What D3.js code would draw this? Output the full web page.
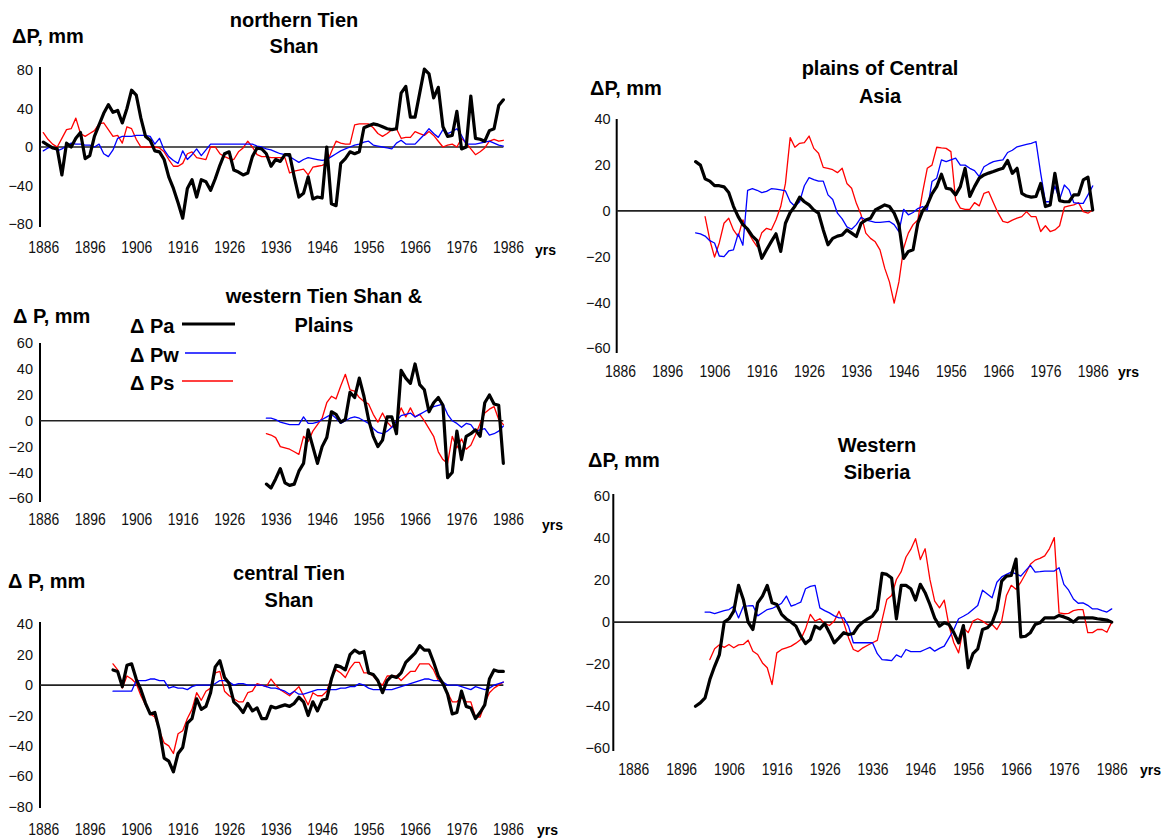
<!DOCTYPE html>
<html>
<head>
<meta charset="utf-8">
<script src="https://cdn.jsdelivr.net/npm/d3@7"></script>
<style>
  body { margin: 0; background: #fff; }
  svg { display: block; font-family: "Liberation Sans", Arial, sans-serif; }
</style>
</head>
<body>
<svg id="chart" width="1162" height="838"></svg>
<script>
// ---- shared tick labels ----
const yearTicks = d3.range(1886, 1987, 10);
const ticksNorth = [80, 40, 0, -40, -80];
const ticksWest = [60, 40, 20, 0, -20, -40, -60];
const ticksCentral = [40, 20, 0, -20, -40, -60, -80];
const ticksPlains = [40, 20, 0, -20, -40, -60];
const ticksSiberia = [60, 40, 20, 0, -20, -40, -60];

// ---- northern Tien Shan, yearly from 1886 ----
const northStart = 1886;
const northPa = [
  5, 2, -1, -2, -29, 4, 0, 9, 15, -12,
  -9, 11, 23, 35, 44, 36, 38, 25, 40, 59,
  54, 30, 11, 7, -4, -5, -13, -31, -43, -58,
  -74, -43, -34, -52, -34, -36, -45, -33, -19, -7,
  -5, -24, -26, -29, -27, -10, -1, -2, -7, -20,
  -13, -15, -8, -8, -31, -52, -48, -31, -54, -52,
  -53, 0, -59, -61, -17, -12, -5, -7, -5, 20,
  22, 24, 23, 21, 19, 18, 19, 56, 63, 31,
  31, 56, 81, 76, 51, 62, 21, 11, 12, 37,
  -2, 0, 53, 9, 8, 6, 17, 19, 43, 49
];
const northPw = [
  -4, -1, 0, -4, -2, 1, 4, 3, 3, 2,
  2, 0, 3, -7, -10, -3, 9, 11, 11, 11,
  12, 12, 12, 11, 3, 9, -3, -10, -14, -17,
  -4, -13, -8, -2, -9, -3, 3, 3, 3, 3,
  3, 3, 3, 3, 3, 3, 1, 0, -2, -3,
  -5, -7, -8, -10, -13, -16, -13, -11, -12, -13,
  -14, -13, -10, -7, -4, -2, 0, 2, 3, 5,
  6, 2, 1, 0, -1, -2, 4, 7, 3, 3,
  3, 8, 13, 19, 14, 10, 18, 14, 16, 19,
  12, 3, 3, 3, 4, 5, 6, 4, 2, 1
];
const northPs = [
  15, 8, 3, 0, 9, 18, 19, 30, 14, 11,
  14, 17, 24, 25, 18, 11, 12, 4, 21, 19,
  8, 0, 0, 0, 0, -1, -5, -13, -20, -20,
  -17, -7, -5, -11, -12, -13, 0, 0, -7, -10,
  -12, -13, -5, -1, 6, 0, -8, -10, -10, -11,
  -11, -11, -11, -27, -25, -24, -23, -29, -21, -20,
  -19, -17, -5, 6, 4, 3, 3, 23, 24, 24,
  24, 20, 14, 11, 14, 18, 19, 9, 10, 10,
  16, 14, 12, 16, 12, 6, 0, 2, 3, 0,
  9, 4, -2, -8, -5, -1, 6, 8, 6, 7
];

// ---- western Tien Shan & Plains, yearly from 1934 ----
const westStart = 1934;
const westPa = [
  -49, -52, -45, -37, -48, -50, -49, -39, -33, -7,
  -20, -33, -20, -13, 7, 5, -1, 1, 22, 18,
  33, 19, 1, -12, -20, -15, 3, 3, -10, 39,
  33, 29, 44, 28, 24, 7, 14, 18, 12, -44,
  -40, -8, -30, -12, -10, -7, -12, 14, 20, 13, 12, -33
];
const westPw = [
  2, 2, 1, -1, -2, -3, -3, -3, 3, -2,
  -2, -1, 1, 3, 5, 2, -2, 0, 2, 3,
  2, 0, -2, -6, -9, -10, -8, -5, 0, 4,
  5, 6, 3, 5, 7, 9, 11, 12, 13, 5,
  0, -2, -5, -2, -3, -8, -7, -6, -11, -10, -8, -4
];
const westPs = [
  -10, -11, -13, -20, -21, -22, -24, -26, -12, -16,
  -8, -3, 2, 14, 19, 17, 27, 36, 24, 23,
  18, 15, 13, 5, -1, 6, -1, -5, 0, 10,
  3, 10, 3, 5, 0, -6, -12, -24, -30, -33,
  -12, -21, -14, -22, -19, -11, -2, 6, 9, 11, 1, -3
];

// ---- central Tien Shan, yearly from 1901 ----
const centralStart = 1901;
const centralPa = [
  10, 9, -1, 13, 14, 4, -3, -12, -19, -18,
  -30, -48, -50, -57, -45, -41, -25, -22, -9, -16,
  -14, -5, 12, 16, 5, 1, -11, -14, -18, -12,
  -17, -15, -22, -22, -14, -15, -14, -13, -14, -12,
  -8, -11, -20, -11, -17, -10, -9, 4, 13, 12,
  10, 20, 23, 21, 22, 8, 7, 3, -5, 3,
  6, 5, 8, 15, 18, 21, 26, 23, 23, 15,
  6, 1, -6, -19, -18, -4, -14, -15, -22, -18,
  -13, 4, 10, 9, 9
];
const centralPw = [
  -4, -4, -4, -4, -4, 3, 3, 3, 4, 4,
  3, 3, -2, -1, -2, -2, -3, -1, 0, 0,
  0, 0, 1, 3, 3, 2, 0, 1, 1, 0,
  0, 0, 0, -1, -2, -2, -3, -4, -6, -4,
  -6, -6, -5, -4, -3, -3, -3, -3, -3, -2,
  -2, -1, -1, 1, 0, -2, -3, -3, -3, -3,
  -3, -2, -1, 0, 1, 2, 3, 4, 4, 3,
  3, 2, 0, 0, 0, -1, -2, -3, -1, -2,
  -3, -2, 0, 1, 2
];
const centralPs = [
  14, 10, -2, 6, 4, 1, -7, -13, -19, -21,
  -30, -38, -40, -45, -32, -30, -22, -16, -5, -10,
  -4, -2, 8, 9, -4, -7, -9, -11, -11, -5,
  -4, 1, 0, -1, 4, 0, -3, -5, -7, -4,
  -1, -7, -13, -5, -7, -7, -4, 5, 10, 8,
  5, 11, 15, 15, 8, 8, 6, 2, 0, 6,
  6, 6, 3, 6, 9, 9, 14, 14, 14, 10,
  3, 1, -5, -11, -11, -8, -11, -11, -21, -21,
  -12, -5, -2, 0, 2
];

// ---- plains of Central Asia ----
const plainsPaStart = 1902;
const plainsPa = [
  21.5, 20, 14, 13, 11, 11, 10.5, 8, 2, -2.5,
  -6, -8, -11, -13, -20.7, -17, -13.4, -10, -17.7, -5.4,
  -0.7, 2, 6, 4, 2.6, 0.4, -1, -8.3, -14.8, -12,
  -11, -10.5, -8.3, -9.7, -11.2, -5.4, -4, -3.2, 0.4, 1.5,
  2.6, 1.9, -1, -6, -20.7, -17.7, -17, -5.4, 0, 2.6,
  7.4, 10.6, 16, 9.9, 9.5, 7, 10.6, 18.6, 6.3, 10.6,
  14.3, 15.7, 16.5, 17.2, 18, 18.6, 22, 16.4, 18.6, 7.7,
  6.5, 6, 6.3, 12, 1.9, 2.6, 16.4, 4.5, 4, 4,
  7, 7, 13.5, 14.7, 0.4
];
const plainsPwStart = 1902;
const plainsPw = [
  -9.6, -10, -11, -13, -14, -19.7, -20, -17.5, -17, -10,
  -15, 9, 9.7, 9, 8, 8.5, 9.7, 9.5, 9.2, 8.7,
  4, 2, 4, 11, 14.5, 13.7, 13, 13, 7, 5,
  -1, -3.5, -7, -8, -6, -2.8, -4, -4.5, -5, -5,
  -4.8, -4.6, -6, -9, 0.7, -1.7, -0.7, 1, 1.9, 0.4,
  12.8, 14.3, 22.3, 21.5, 22.3, 23, 20, 20, 18.6, 17.6,
  15, 19.3, 20.5, 21.5, 22, 22.3, 25.5, 26.5, 28, 28.5,
  29, 29.5, 30.3, 16.4, 4, 4, 10.9, 5, 11.3, 9.2,
  3.6, 3.3, 3.3, 7, 10.9
];
const plainsPsStart = 1904;
const plainsPs = [
  -2.5, -12.7, -20.2, -14, -5.4, -3.2, -8.3, -11.2, -3.9, -9,
  -12.5, -15.6, -9.5, -7.6, -8.3, -3.9, 1.9, 12, 32, 27.8,
  29.5, 29.8, 32.7, 27.3, 25.2, 19, 18.6, 18, 16.7, 18.6,
  12, 9.9, 3.3, -1.7, -9.7, -12, -13.5, -17, -25, -31,
  -40.3, -31, -16.3, -9.7, -6, -4, 8, 18.6, 20, 27.8,
  27.5, 27.3, 25.9, 4.8, 1.2, 0.7, 0.7, 3.6, 2.2, 7.7,
  8.4, 3.6, -1, -4.6, -5.1, -4, -3.2, -2.5, -0.3, -2.5,
  -2.5, -9, -6.5, -9, -8.3, -6.5, 1.6, 2.2, 2.6, 3.6,
  -0.3, -1, 0.4
];

// ---- Western Siberia ----
const siberiaPaStart = 1899;
const siberiaPa = [
  -40, -38.4, -36, -27.3, -21, -15.4, 0, 1.6, 5.2, 17.5,
  10.8, 0, -3.5, 9.2, 12.4, 17.5, 9.2, 8.4, 3.7, 1.5,
  0, -1.9, -6.7, -10.2, -8.3, -1.9, -3.2, -0.6, -5, -9.8,
  -7.5, -5, -5.9, -5.4, -2, 0, 1.6, 2.9, 6, 23.2,
  22.7, 21, 1.6, 17.5, 17.5, 15.9, 10.5, 18, 14, 8.4,
  2, -1.9, -0.3, -1.1, -5, -9.8, -1.6, -21.7, -15, -12.7,
  -3.5, -2.7, -0.3, 6, 19.5, 21.9, 22.2, 30, -7, -6.7,
  -5, -1.1, -0.3, 2, 2, 2, 3.2, 2.5, 1.6, 0,
  2, 2, 2, 2, 1.6, 1.3, 1, 0
];
const siberiaPwStart = 1901;
const siberiaPw = [
  4.8, 4.8, 4.1, 4.8, 5.5, 6, 7.6, 2, 7.6, 7.7,
  7.9, 3, 4.5, 6, 6.5, 7.6, 9, 12.4, 7.6, 8.5,
  9.5, 15.9, 17, 17.5, 6.8, 5.5, 4.4, 3, 2, 2,
  -2, -9.8, -9.8, -9.8, -9.8, -9.8, -15, -17.8, -18, -18.3,
  -15.6, -16.7, -13, -14, -14, -14, -13, -12, -13.8, -12.5,
  -11.4, -7.5, -3.5, 1.6, 2.8, 4.1, 6, 7.9, 15.2, 13.4,
  11.6, 19, 21.5, 22.7, 23.8, 23, 21.9, 24.5, 27, 23.8,
  24, 24.3, 24.3, 24.3, 25.9, 18, 15.2, 11, 9, 9.2,
  8, 6.3, 6.3, 5.5, 4.8, 6.3
];
const siberiaPsStart = 1902;
const siberiaPs = [
  -17.8, -12.7, -10.8, -12, -10.6, -12.2, -10.8, -10.6, -8.6, -13.8,
  -15.4, -19.4, -21.7, -29.7, -14.6, -13, -12.2, -11.4, -10, -8.3,
  -3.2, 3.7, 0.5, 1.6, -0.6, -1.6, 0.5, 5.2, -0.3, -7.5,
  -13, -14, -12.2, -11, -9.8, -8.7, 1, 10.8, 12.7, 20.3,
  24, 31, 34.6, 39.7, 29.8, 34.9, 20.3, 10, 6.8, 10.5,
  -1.9, -9.8, -14.6, -2.7, -5, 0.5, 1.6, 0.5, -1.1, -1.1,
  -3.5, 0.5, 12.7, 17.5, 15.6, 19, 23, 27.5, 29.5, 30.3,
  31.5, 35, 40.2, 4.4, 4, 4.2, 5.5, 6, 6, -5,
  -5, -3.5, -3.5, -4.8, 0
];

// ---- series styling ----
const seriesStyle = {
  Pa: { color: "#000000", width: 3.2 },
  Pw: { color: "#0000ff", width: 1.3 },
  Ps: { color: "#ff0000", width: 1.3 }
};

const toPoints = (start, values) => values.map((v, i) => ({ year: start + i, value: v }));

// ---- panel layout ----
const panels = [
  {
    title: ["northern Tien", "Shan"], titleX: 294, titleY: [27, 53],
    unit: "ΔP, mm", unitX: 12, unitY: 43,
    xRange: [43.3, 508], yDomain: [-80, 80], yRange: [224, 70], yTicks: ticksNorth,
    axisX: 40, axisY: [67, 227], labelRight: 33, xLabelY: 253, yrsX: 535, yrsY: 255,
    series: {
      Ps: toPoints(northStart, northPs),
      Pw: toPoints(northStart, northPw),
      Pa: toPoints(northStart, northPa)
    }
  },
  {
    title: ["western Tien Shan &", "Plains"], titleX: 324, titleY: [303, 332],
    unit: "Δ P, mm", unitX: 13, unitY: 323,
    xRange: [43.3, 508], yDomain: [-60, 60], yRange: [498.3, 343.3], yTicks: ticksWest,
    axisX: 40, axisY: [343, 502], labelRight: 33, xLabelY: 525, yrsX: 542, yrsY: 530,
    legend: true,
    series: {
      Ps: toPoints(westStart, westPs),
      Pw: toPoints(westStart, westPw),
      Pa: toPoints(westStart, westPa)
    }
  },
  {
    title: ["central Tien", "Shan"], titleX: 289, titleY: [580, 607],
    unit: "Δ P, mm", unitX: 8, unitY: 588,
    xRange: [43.3, 508], yDomain: [-80, 40], yRange: [806.7, 624.3], yTicks: ticksCentral,
    axisX: 40, axisY: [622, 808], labelRight: 33, xLabelY: 835, yrsX: 537, yrsY: 835,
    series: {
      Ps: toPoints(centralStart, centralPs),
      Pw: toPoints(centralStart, centralPw),
      Pa: toPoints(centralStart, centralPa)
    }
  },
  {
    title: ["plains of Central", "Asia"], titleX: 880, titleY: [75, 103],
    unit: "ΔP, mm", unitX: 590, unitY: 95,
    xRange: [620, 1092.7], yDomain: [-60, 40], yRange: [348.3, 119.3], yTicks: ticksPlains,
    axisX: 616.7, axisY: [119, 353], labelRight: 610.7, xLabelY: 377, yrsX: 1118, yrsY: 377,
    series: {
      Ps: toPoints(plainsPsStart, plainsPs),
      Pw: toPoints(plainsPwStart, plainsPw),
      Pa: toPoints(plainsPaStart, plainsPa)
    }
  },
  {
    title: ["Western", "Siberia"], titleX: 877, titleY: [452, 479],
    unit: "ΔP, mm", unitX: 588, unitY: 467,
    xRange: [633.3, 1111.7], yDomain: [-60, 60], yRange: [748.3, 496], yTicks: ticksSiberia,
    axisX: 613.3, axisY: [494, 751], labelRight: 610, xLabelY: 775, yrsX: 1140, yrsY: 775,
    series: {
      Ps: toPoints(siberiaPsStart, siberiaPs),
      Pw: toPoints(siberiaPwStart, siberiaPw),
      Pa: toPoints(siberiaPaStart, siberiaPa)
    }
  }
];

const svg = d3.select("#chart");

function drawPanel(p) {
  const x = d3.scaleLinear().domain([1886, 1986]).range(p.xRange);
  const y = d3.scaleLinear().domain(p.yDomain).range(p.yRange);
  const g = svg.append("g");

  // y tick labels
  const yAxis = d3.axisLeft(y).tickValues(p.yTicks).tickSize(0).tickPadding(0)
    .tickFormat(d3.format("d"));
  const ya = g.append("g").attr("transform", `translate(${p.labelRight},0)`).call(yAxis);
  ya.select(".domain").remove();
  ya.attr("font-size", 14.5).attr("font-family", null);
  ya.selectAll("text").attr("fill", "#111");

  // x tick labels (years), narrow and tall
  const xAxis = d3.axisBottom(x).tickValues(yearTicks).tickSize(0).tickFormat(d3.format("d"));
  const xa = g.append("g").attr("transform", `translate(0,${p.xLabelY})`).call(xAxis);
  xa.select(".domain").remove();
  xa.attr("font-size", 16).attr("font-family", null);
  xa.selectAll("text").attr("y", 0).attr("dy", 0).attr("fill", "#111")
    .attr("transform", "scale(0.87,1)");

  // vertical axis line
  g.append("line")
    .attr("x1", p.axisX).attr("x2", p.axisX)
    .attr("y1", p.axisY[0]).attr("y2", p.axisY[1])
    .attr("stroke", "#000").attr("stroke-width", 2);

  // zero line up to the last year of data
  const lastYear = d3.max(Object.values(p.series), s => s[s.length - 1].year);
  g.append("line")
    .attr("x1", p.axisX).attr("x2", x(lastYear))
    .attr("y1", y(0)).attr("y2", y(0))
    .attr("stroke", "#222").attr("stroke-width", 1.6);

  // series
  const line = d3.line().x(d => x(d.year)).y(d => y(d.value));
  for (const key of ["Ps", "Pw", "Pa"]) {
    g.append("path")
      .datum(p.series[key])
      .attr("d", line)
      .attr("fill", "none")
      .attr("stroke", seriesStyle[key].color)
      .attr("stroke-width", seriesStyle[key].width)
      .attr("stroke-linejoin", "round")
      .attr("stroke-linecap", "round");
  }

  // texts
  g.append("text").attr("x", p.unitX).attr("y", p.unitY)
    .attr("font-size", 20).attr("font-weight", "bold").text(p.unit);
  p.title.forEach((t, i) => {
    g.append("text").attr("x", p.titleX).attr("y", p.titleY[i])
      .attr("text-anchor", "middle").attr("font-size", 20).attr("font-weight", "bold").text(t);
  });
  g.append("text").attr("x", p.yrsX).attr("y", p.yrsY)
    .attr("font-size", 14).attr("font-weight", "bold").text("yrs");

  if (p.legend) {
    const items = [
      { key: "Pa", label: "Δ Pa", ty: 333, ly: 324, lx: [182, 235] },
      { key: "Pw", label: "Δ Pw", ty: 362, ly: 353, lx: [185, 236] },
      { key: "Ps", label: "Δ Ps", ty: 390, ly: 381, lx: [182, 233] }
    ];
    const lg = g.append("g");
    items.forEach(it => {
      lg.append("text").attr("x", 130).attr("y", it.ty)
        .attr("font-size", 20).attr("font-weight", "bold").text(it.label);
      lg.append("line").attr("x1", it.lx[0]).attr("x2", it.lx[1])
        .attr("y1", it.ly).attr("y2", it.ly)
        .attr("stroke", seriesStyle[it.key].color)
        .attr("stroke-width", seriesStyle[it.key].width);
    });
  }
}

panels.forEach(drawPanel);
</script>
</body>
</html>
